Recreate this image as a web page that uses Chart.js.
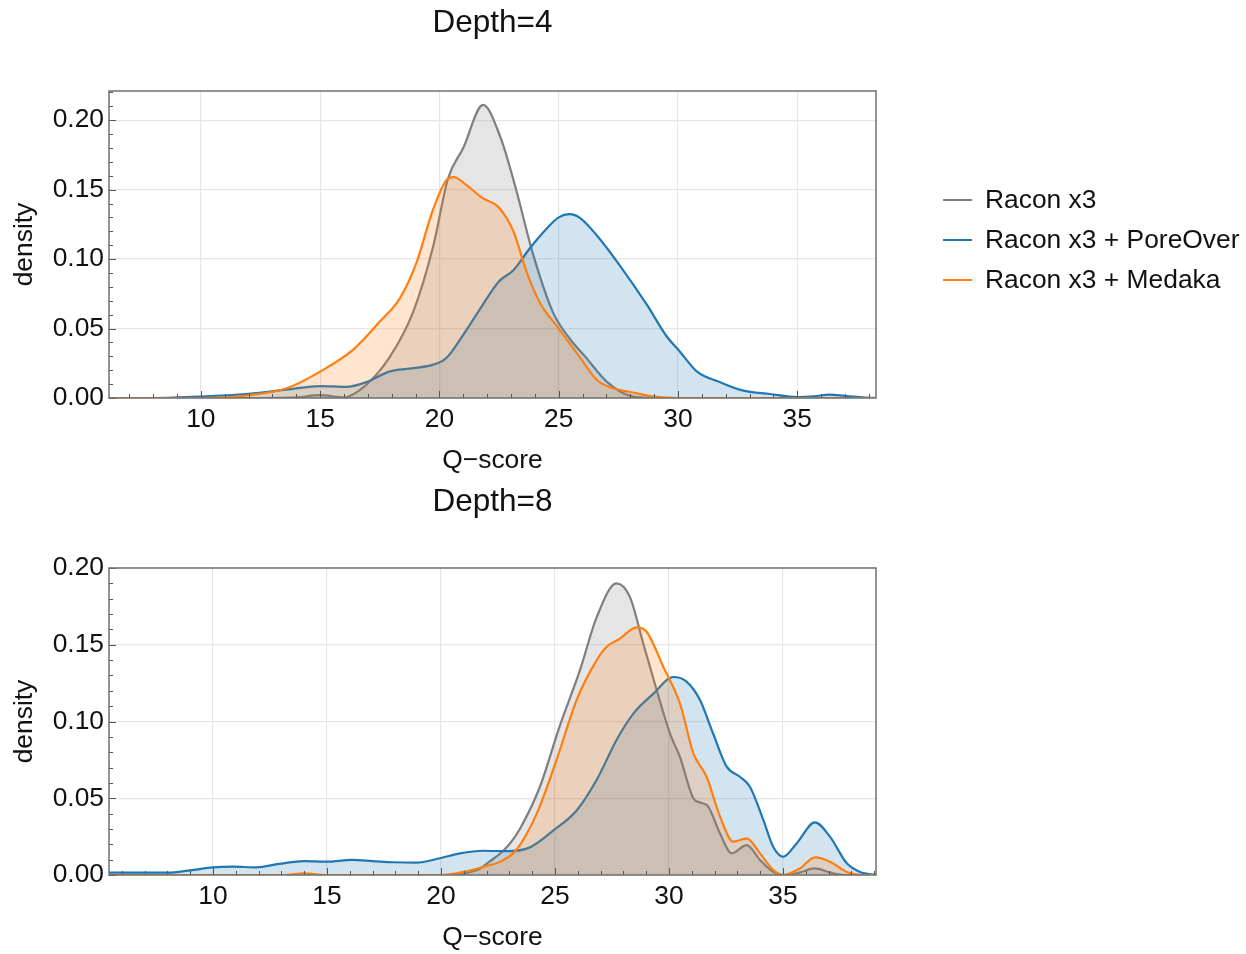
<!DOCTYPE html>
<html><head><meta charset="utf-8">
<script src="https://cdn.jsdelivr.net/npm/chart.js@4.4.1/dist/chart.umd.min.js"></script>
<style>
html,body{margin:0;padding:0;background:#fff;width:1246px;height:954px;overflow:hidden;font-family:"Liberation Sans",Arial,sans-serif;}
canvas{position:absolute;left:0;}
#c1{top:0}
#c2{top:477px}
.leg-line{position:absolute;left:943px;width:29px;height:2px;}
.leg-text{position:absolute;left:985px;font-size:26.4px;line-height:26px;color:#111;white-space:nowrap;}
</style></head><body>
<canvas id="c1" width="1246" height="477"></canvas>
<canvas id="c2" width="1246" height="477"></canvas>
<div id="legend"></div>
<script>
// ---- series meta ----
const seriesNames = ['Racon x3', 'Racon x3 + PoreOver', 'Racon x3 + Medaka'];
const lineColors = ['#7f7f7f', '#1f77b4', '#ff7f0e'];
const fillColors = ['rgba(127,127,127,0.2)', 'rgba(31,119,180,0.2)', 'rgba(255,127,14,0.2)'];
const xTickStep = 5;
const yTickStep = 0.05;

// ---- Depth = 4 ----
const d4RaconQ = [6, 12, 14, 15, 16, 16.9, 17.9, 18.9, 19.75, 20.36, 21.0, 21.83, 22.53, 23.2, 23.9, 24.75, 25.45, 26.15, 27.0, 28.0, 29, 38.3];
const d4RaconDensity = [0, 0, 0.0005, 0.002, 0.0005, 0.009, 0.029, 0.062, 0.110, 0.158, 0.180, 0.211, 0.189, 0.151, 0.105, 0.062, 0.043, 0.029, 0.012, 0.0015, 0, 0];

const d4PoreOverQ = [6, 8, 10, 12, 13.6, 15, 16.1, 16.95, 17.9, 18.9, 19.75, 20.3, 20.9, 21.7, 22.5, 23.1, 23.8, 24.5, 25.0, 25.45, 25.9, 26.6, 27.55, 28.7, 29.5, 30.1, 30.8, 31.75, 32.7, 33.85, 35, 35.7, 36.35, 37, 37.7, 38.3];
const d4PoreOverDensity = [0, 0, 0.001, 0.003, 0.006, 0.0086, 0.008, 0.0115, 0.019, 0.0215, 0.024, 0.029, 0.043, 0.064, 0.084, 0.092, 0.108, 0.122, 0.130, 0.1323, 0.1295, 0.117, 0.0957, 0.067, 0.045, 0.033, 0.019, 0.0115, 0.0055, 0.0029, 0.0007, 0.0012, 0.0025, 0.0015, 0.0005, 0];

const d4MedakaQ = [6, 10, 12, 13.6, 15, 16.4, 17.5, 18.35, 19.05, 19.7, 20.3, 20.6, 21.15, 21.8, 22.5, 23.1, 23.65, 24.2, 25.0, 25.9, 26.6, 27.25, 28, 29, 30, 38.3];
const d4MedakaDensity = [0, 0, 0.002, 0.007, 0.019, 0.035, 0.055, 0.072, 0.098, 0.134, 0.157, 0.159, 0.153, 0.144, 0.137, 0.120, 0.091, 0.069, 0.050, 0.029, 0.013, 0.0072, 0.0043, 0.001, 0, 0];

// ---- Depth = 8 ----
const d8RaconQ = [5.4, 20.5, 21.0, 21.7, 22.15, 22.6, 23.0, 23.46, 24.34, 25.2, 26.1, 26.83, 27.7, 28.29, 28.87, 29.46, 30.04, 30.48, 31.07, 31.4, 31.7, 32.24, 32.75, 33.41, 33.99, 34.57, 35.0, 35.7, 36.4, 37.1, 37.8, 39.1];
const d8RaconDensity = [0, 0, 0.001, 0.004, 0.009, 0.014, 0.020, 0.030, 0.0575, 0.0966, 0.1336, 0.168, 0.190, 0.181, 0.151, 0.1205, 0.0923, 0.077, 0.050, 0.047, 0.045, 0.027, 0.0141, 0.0195, 0.0098, 0.002, 0, 0.0015, 0.0043, 0.0015, 0, 0];

const d8PoreOverQ = [5.4, 8.0, 9.0, 10.0, 10.9, 11.9, 12.9, 14.0, 15.0, 16.1, 17.0, 17.9, 18.9, 19.96, 20.83, 21.86, 22.9, 23.9, 24.93, 25.95, 26.83, 27.7, 28.43, 29.31, 30.19, 30.77, 31.36, 31.94, 32.53, 33.11, 33.55, 34.14, 34.57, 35.01, 35.6, 36.4, 37.06, 37.8, 38.38, 39.1];
const d8PoreOverDensity = [0.0015, 0.0015, 0.003, 0.005, 0.0054, 0.005, 0.0072, 0.0091, 0.0087, 0.0098, 0.0091, 0.0083, 0.008, 0.0109, 0.0141, 0.0158, 0.0155, 0.018, 0.029, 0.042, 0.062, 0.088, 0.105, 0.118, 0.129, 0.126, 0.114, 0.092, 0.0706, 0.064, 0.0575, 0.0358, 0.0184, 0.0119, 0.0206, 0.0343, 0.025, 0.0076, 0.002, 0];

const d8MedakaQ = [5.4, 13, 14, 15, 20, 20.97, 22.0, 22.6, 23.3, 24.2, 25.07, 25.95, 26.83, 27.27, 27.85, 28.58, 29.02, 29.75, 30.48, 31.07, 31.65, 32.24, 32.82, 33.41, 33.99, 34.57, 35.0, 35.75, 36.4, 37.06, 37.8, 38.5, 39.1];
const d8MedakaDensity = [0, 0, 0.001, 0, 0, 0.002, 0.0059, 0.0087, 0.0163, 0.040, 0.075, 0.114, 0.140, 0.1487, 0.154, 0.1613, 0.1585, 0.1357, 0.1119, 0.0793, 0.064, 0.038, 0.0217, 0.0239, 0.0141, 0.0033, 0, 0.0043, 0.0115, 0.0087, 0.002, 0, 0];

// ---- helpers ----
function pts(xs, ys) { return xs.map((x, i) => ({ x: x, y: ys[i] })); }
function isMult(v, step) { const r = v / step; return Math.abs(r - Math.round(r)) < 1e-6; }
const FONT = '"Liberation Sans", Arial, sans-serif';
const TXT = '#111';
const LBL = 26.4;

const axisDeco = {
  id: 'axisDeco',
  afterDatasetsDraw(chart) {
    const { ctx, chartArea: { left, right, top, bottom }, scales: { x, y } } = chart;
    ctx.save();
    ctx.strokeStyle = '#555';
    ctx.lineWidth = 1;
    ctx.beginPath();
    for (let v = Math.ceil(x.min); v <= x.max; v++) {
      const px = Math.round(x.getPixelForValue(v)) + 0.5;
      const len = (v % 5 === 0) ? 7 : 4;
      ctx.moveTo(px, bottom); ctx.lineTo(px, bottom - len);
    }
    for (let i = 0; i * 0.01 <= y.max + 1e-9; i++) {
      const py = Math.round(y.getPixelForValue(i * 0.01)) + 0.5;
      const len = (i % 5 === 0) ? 7 : 4;
      ctx.moveTo(left, py); ctx.lineTo(left + len, py);
    }
    ctx.stroke();
    ctx.strokeStyle = '#707070';
    ctx.lineWidth = 1.5;
    ctx.strokeRect(left, top, right - left, bottom - top);
    ctx.restore();
  }
};

function makeChart(id, titleText, titleTop, xMin, xMax, yMax, series) {
  const datasets = series.map((s, i) => ({
    label: seriesNames[i],
    data: pts(s[0], s[1]),
    borderColor: lineColors[i],
    backgroundColor: fillColors[i],
    borderWidth: 2.2,
    pointRadius: 0,
    fill: 'origin',
    cubicInterpolationMode: 'monotone',
    order: 3 - i
  }));
  return new Chart(document.getElementById(id), {
    type: 'line',
    data: { datasets },
    plugins: [axisDeco],
    options: {
      responsive: false,
      animation: false,
      devicePixelRatio: 1,
      layout: { padding: { top: 0, left: 0, right: 370, bottom: 0 } },
      plugins: {
        legend: { display: false },
        tooltip: { enabled: false },
        title: {
          display: true, text: titleText, fullSize: false, color: TXT,
          font: { family: FONT, size: 31.5, weight: 'normal', lineHeight: 1.2 },
          padding: { top: titleTop, bottom: 91 - 37.8 - titleTop }
        }
      },
      scales: {
        x: {
          type: 'linear', min: xMin, max: xMax,
          afterBuildTicks(scale) { scale.ticks = scale.ticks.filter(t => isMult(t.value, xTickStep)); },
          afterFit(scale) { scale.height = 79; },
          ticks: { color: TXT, font: { family: FONT, size: LBL }, padding: 6, maxRotation: 0, autoSkip: false,
                   includeBounds: false, stepSize: xTickStep, callback: v => String(Math.round(v)) },
          grid: { color: '#e6e6e6', lineWidth: 1.2, drawTicks: false },
          border: { display: false },
          title: { display: true, text: 'Q\u2212score', color: TXT, font: { family: FONT, size: LBL, lineHeight: 1.2 }, padding: { top: 0, bottom: 0 } }
        },
        y: {
          type: 'linear', min: 0, max: yMax,
          afterBuildTicks(scale) { scale.ticks = scale.ticks.filter(t => isMult(t.value, yTickStep)); },
          afterFit(scale) { scale.width = 109; },
          ticks: { color: TXT, font: { family: FONT, size: LBL }, padding: 5, stepSize: yTickStep,
                   includeBounds: false, callback: v => Number(v).toFixed(2) },
          grid: { color: '#e6e6e6', lineWidth: 1.2, drawTicks: false },
          border: { display: false },
          title: { display: true, text: 'density', color: TXT, font: { family: FONT, size: LBL, lineHeight: 1.2 }, padding: { top: 9, bottom: 0 } }
        }
      }
    }
  });
}

makeChart('c1', 'Depth=4', 4.5, 6.15, 38.3, 0.221, [
  [d4RaconQ, d4RaconDensity], [d4PoreOverQ, d4PoreOverDensity], [d4MedakaQ, d4MedakaDensity]
]);
makeChart('c2', 'Depth=8', 6.5, 5.44, 39.08, 0.20, [
  [d8RaconQ, d8RaconDensity], [d8PoreOverQ, d8PoreOverDensity], [d8MedakaQ, d8MedakaDensity]
]);

// ---- legend (HTML) ----
const legend = document.getElementById('legend');
seriesNames.forEach((name, i) => {
  const ln = document.createElement('div');
  ln.className = 'leg-line';
  ln.style.top = (199 + i * 40) + 'px';
  ln.style.background = lineColors[i];
  legend.appendChild(ln);
  const tx = document.createElement('div');
  tx.className = 'leg-text';
  tx.style.top = (186 + i * 40) + 'px';
  tx.textContent = name;
  legend.appendChild(tx);
});
</script>
</body></html>
